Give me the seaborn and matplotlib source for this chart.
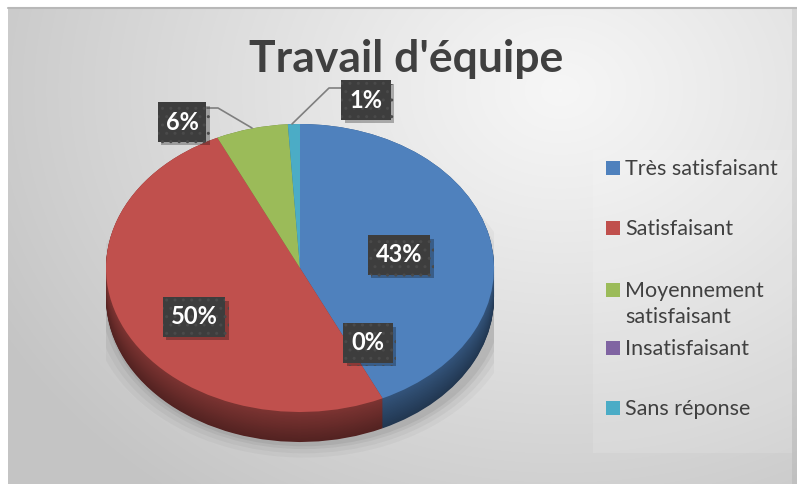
import numpy as np
import matplotlib
matplotlib.use("Agg")
import matplotlib.pyplot as plt
import matplotlib.patheffects as pe
from matplotlib.patches import Rectangle, Ellipse
from matplotlib.colors import to_rgb
import seaborn as sns

# ---------------- data ----------------
categories = ["Très satisfaisant", "Satisfaisant", "Moyennement\nsatisfaisant",
              "Insatisfaisant", "Sans réponse"]
values = [43, 50, 6, 0, 1]
colors = ["#4F81BD", "#C0504D", "#9BBB59", "#8064A2", "#4BACC6"]
title = "Travail d'équipe"

# ---------------- style ----------------
sns.set_theme(style="white")
plt.rcParams["font.family"] = ["Lato", "DejaVu Sans"]
plt.rcParams["hatch.linewidth"] = 1.0

W, H = 797, 484
fig = plt.figure(figsize=(W / 100, H / 100), dpi=100)

# background gradient
bg = fig.add_axes([0, 0, 1, 1], zorder=-10)
yy, xx = np.mgrid[0:H, 0:W]
d = np.hypot(xx - 560, (yy - 90) / 0.8)
t = np.clip(d / 640, 0, 1) ** 1.1
light = np.array([0.965, 0.965, 0.965])
dark = np.array([0.77, 0.77, 0.77])
img = light[None, None, :] * (1 - t[..., None]) + dark[None, None, :] * t[..., None]
img[:, 792:] = img[:, 792:] * 0.94
img[:, :8] = 1.0
img[:7, :] = 1.0
bg.imshow(img, extent=[0, W, H, 0], aspect="auto", interpolation="bilinear")
bg.plot([8, W], [7.5, 7.5], color="#b8b8b8", lw=1.5)
bg.set_xlim(0, W)
bg.set_ylim(H, 0)
bg.axis("off")

# ---------------- pie (pseudo 3D) ----------------
cx, cy, rx, ry, depth = 300, 268, 194, 144, 30
ybot = 1.45
axp = fig.add_axes([(cx - rx) / W, (H - (cy + ybot * ry)) / H,
                    2 * rx / W, (1 + ybot) * ry / H], zorder=1)
dz = depth / ry

# soft shadow
for s, a in [(1.10, 0.03), (1.07, 0.04), (1.04, 0.05), (1.02, 0.06)]:
    axp.add_patch(Ellipse((0.02, -dz - 0.03), 2 * s, 2 * s * 0.98,
                          fc="black", ec="none", alpha=a, zorder=0))


def shade(c, f):
    return tuple(np.clip(np.array(to_rgb(c)) * f, 0, 1))


n = 40
for i in range(n + 1):
    k = dz * (1 - i / n)
    f = 0.43 + 0.22 * (i / n)
    axp.pie(values, colors=[shade(c, f) for c in colors], startangle=90,
            counterclock=False, center=(0, -k), radius=1,
            wedgeprops=dict(linewidth=0, clip_on=False))
axp.pie(values, colors=colors, startangle=90, counterclock=False,
        wedgeprops=dict(linewidth=0, clip_on=False))
axp.set_xlim(-1, 1)
axp.set_ylim(-ybot, 1)
axp.set_aspect("auto")
axp.axis("off")

# ---------------- overlay: title, labels, legend ----------------
ov = fig.add_axes([0, 0, 1, 1], zorder=5)
ov.set_xlim(0, W)
ov.set_ylim(H, 0)
ov.axis("off")
ov.patch.set_alpha(0)

ov.text(406, 72, title, ha="center", va="baseline", fontsize=32,
        fontweight="bold", color="#404040")

# leader lines
ov.plot([207, 218, 252], [108, 108, 128], color="#7f7f7f", lw=1.2)
ov.plot([341, 329, 292], [88, 88, 124], color="#7f7f7f", lw=1.2)

label_centers = [(399, 255), (194, 317), (182, 122), (368, 343), (366, 100)]
for v, (lx, ly) in zip(values, label_centers):
    tx = ov.text(lx, ly, f"{v}%", ha="center", va="center", fontsize=17,
                 fontweight="bold", color="white",
                 bbox=dict(boxstyle="square,pad=0.34", fc="#3d3d3d", ec="#4a4a4a",
                           lw=0, hatch=".."))
    tx.get_bbox_patch().set_path_effects(
        [pe.SimplePatchShadow(offset=(2.5, -2.5), shadow_rgbFace="black", alpha=0.28),
         pe.Normal()])

# legend
ov.add_patch(Rectangle((593, 150), 199, 303, fc="white", ec="none", alpha=0.12))
baselines = [175, 235, 297, 355, 415]
for lab, c, b in zip(categories, colors, baselines):
    ov.add_patch(Rectangle((606, b - 14.5), 14, 14, fc=c, ec="none"))
    for j, line in enumerate(lab.split("\n")):
        ov.text(625, b + 26 * j, line, ha="left", va="baseline", fontsize=15.5,
                color="#404040")

fig.savefig("out.png", dpi=100)
